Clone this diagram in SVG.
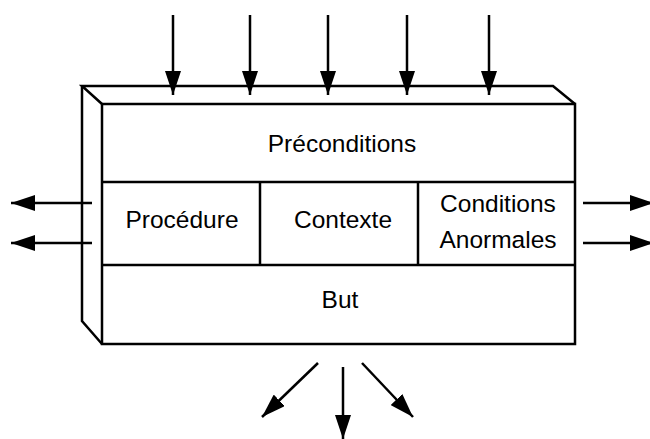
<svg xmlns="http://www.w3.org/2000/svg" width="650" height="439" viewBox="0 0 650 439">
  <style>
    .edge { fill: none; stroke: #000; stroke-width: 2.5; stroke-linejoin: miter; }
    .wire { fill: none; stroke: #000; stroke-width: 2.5; }
    .label { font-family: "Liberation Sans", Arial, sans-serif; font-size: 24.5px; fill: #000; text-anchor: middle; }
  </style>
  <defs>
    <marker id="head" viewBox="0 0 24 16" refX="24" refY="8" markerWidth="24" markerHeight="16" markerUnits="userSpaceOnUse" orient="auto">
      <path d="M0,0 L24,8 L0,16 Z" fill="#000"/>
    </marker>
  </defs>
  <rect width="650" height="439" fill="#fff"/>

  <!-- 3D block: back edges and front face -->
  <g id="block">
    <path class="edge" d="M102,104 L82,86 L553,86 L575,104"/>
    <path class="edge" d="M82,86 L82,321 L102,344"/>
    <rect class="edge" x="102" y="104" width="473" height="240"/>
  </g>

  <g id="preconditions">
    <line class="edge" x1="102" y1="182" x2="575" y2="182"/>
    <text class="label" x="342" y="152">Préconditions</text>
  </g>
  <g id="procedure">
    <line class="edge" x1="260" y1="182" x2="260" y2="265"/>
    <text class="label" x="182" y="228">Procédure</text>
  </g>
  <g id="contexte">
    <line class="edge" x1="418" y1="182" x2="418" y2="265"/>
    <text class="label" x="343" y="228">Contexte</text>
  </g>
  <g id="conditions-anormales">
    <text class="label" x="498" y="212">Conditions</text>
    <text class="label" x="498" y="248">Anormales</text>
  </g>
  <g id="but">
    <line class="edge" x1="102" y1="265" x2="575" y2="265"/>
    <text class="label" x="340" y="308">But</text>
  </g>

  <g id="connectors" class="wire">
    <!-- inputs from above -->
    <line x1="173" y1="15" x2="173" y2="95" marker-end="url(#head)"/>
    <line x1="250" y1="15" x2="250" y2="95" marker-end="url(#head)"/>
    <line x1="328" y1="15" x2="328" y2="95" marker-end="url(#head)"/>
    <line x1="407" y1="15" x2="407" y2="95" marker-end="url(#head)"/>
    <line x1="489" y1="15" x2="489" y2="95" marker-end="url(#head)"/>
    <!-- outputs to the left -->
    <line x1="92" y1="203" x2="11" y2="203" marker-end="url(#head)"/>
    <line x1="92" y1="243" x2="11" y2="243" marker-end="url(#head)"/>
    <!-- outputs to the right -->
    <line x1="583" y1="203" x2="654" y2="203" marker-end="url(#head)"/>
    <line x1="583" y1="243" x2="654" y2="243" marker-end="url(#head)"/>
    <!-- outputs below -->
    <line x1="318" y1="363" x2="262" y2="417" marker-end="url(#head)"/>
    <line x1="343" y1="367" x2="343" y2="439" marker-end="url(#head)"/>
    <line x1="362" y1="363" x2="413" y2="417" marker-end="url(#head)"/>
  </g>
</svg>
